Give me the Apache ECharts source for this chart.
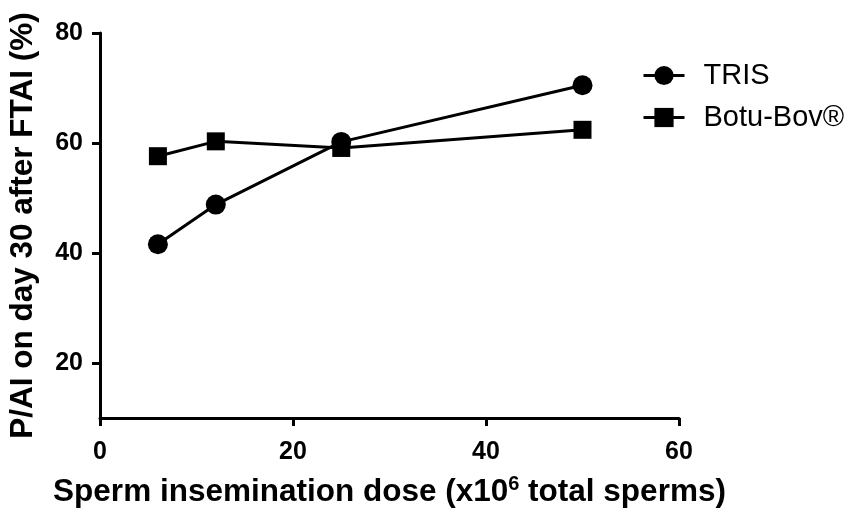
<!DOCTYPE html>
<html>
<head>
<meta charset="utf-8">
<script src="https://cdn.jsdelivr.net/npm/echarts@6/dist/echarts.min.js"></script>
<style>html,body{margin:0;padding:0;background:#fff}#c{width:854px;height:509px}</style>
</head>
<body>
<div id="c"></div>
<script>
const doses = [6, 12, 25, 50];
const trisValues = [41.6, 48.8, 60.2, 70.5];
const botuValues = [57.6, 60.3, 59.1, 62.4];
const seriesNames = ['TRIS', 'Botu-Bov®'];
const yTickValues = [20, 40, 60, 80];
const xTickValues = [0, 20, 40, 60];

const chart = echarts.init(document.getElementById('c'), null, {renderer: 'canvas'});
const font = 'Liberation Sans, Arial, sans-serif';
const axisLine = {lineStyle: {color: '#000', width: 3}};
chart.setOption({
  animation: false,
  grid: {left: 100, right: 175, top: 33, bottom: 91, containLabel: false, outerBoundsMode: 'none'},
  legend: {
    left: 637, top: 56, orient: 'vertical',
    itemWidth: 41, itemHeight: 24, itemGap: 13,
    lineStyle: {width: 3, color: '#000'},
    textStyle: {fontFamily: font, fontSize: 29, color: '#000', padding: [0, 0, 0, 14]},
    data: seriesNames
  },
  xAxis: {
    type: 'value', min: 0, max: 60, interval: 20,
    axisLine: axisLine,
    axisTick: {show: true, length: 8, lineStyle: {color: '#000', width: 3}, customValues: xTickValues},
    axisLabel: {fontFamily: font, fontWeight: 'bold', fontSize: 25, color: '#000', margin: 22, customValues: xTickValues},
    splitLine: {show: false},
    name: '{t|Sperm insemination dose (x10}{s|6}{t| total sperms)}',
    nameLocation: 'middle', nameGap: 56,
    nameTextStyle: {
      rich: {
        t: {fontFamily: font, fontWeight: 'bold', fontSize: 31.5, color: '#000', verticalAlign: 'bottom'},
        s: {fontFamily: font, fontWeight: 'bold', fontSize: 20, color: '#000', verticalAlign: 'top', padding: [0,0,14,0]}
      }
    }
  },
  yAxis: {
    type: 'value', min: 10, max: 80,
    axisLine: {show: true, lineStyle: {color: '#000', width: 3}},
    axisTick: {show: true, length: 8, lineStyle: {color: '#000', width: 3}, customValues: yTickValues},
    axisLabel: {fontFamily: font, fontWeight: 'bold', fontSize: 25, color: '#000', margin: 17, customValues: yTickValues},
    splitLine: {show: false},
    name: 'P/AI on day 30 after FTAI (%)',
    nameLocation: 'middle', nameGap: 61,
    nameTextStyle: {fontFamily: font, fontWeight: 'bold', fontSize: 31.5, color: '#000'}
  },
  series: [
    {
      name: seriesNames[0], type: 'line', symbol: 'circle', symbolSize: 20,
      lineStyle: {color: '#000', width: 3}, itemStyle: {color: '#000'},
      data: doses.map((d, i) => [d, trisValues[i]])
    },
    {
      name: seriesNames[1], type: 'line', symbol: 'rect', symbolSize: 18,
      lineStyle: {color: '#000', width: 3}, itemStyle: {color: '#000'},
      data: doses.map((d, i) => [d, botuValues[i]])
    }
  ]
});
</script>
</body>
</html>
